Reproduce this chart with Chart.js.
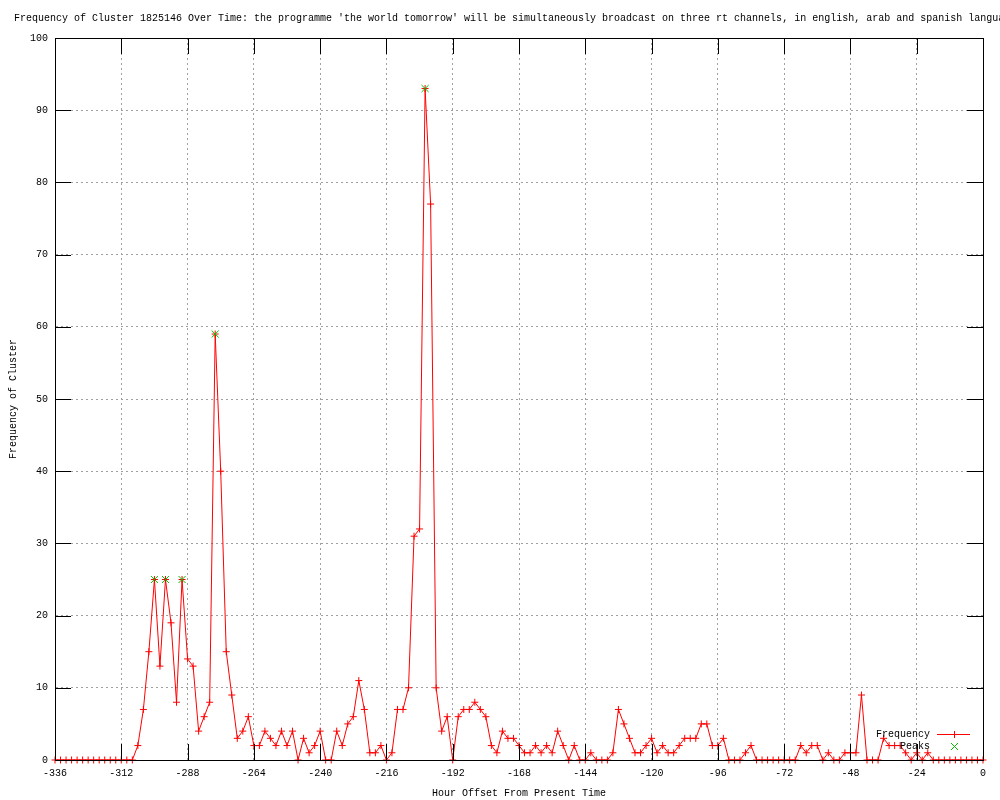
<!DOCTYPE html>
<html>
<head>
<meta charset="utf-8">
<script src="https://cdn.jsdelivr.net/npm/chart.js"></script>
<style>
  html, body { margin: 0; padding: 0; background: #fff; }
  #wrap { width: 1000px; height: 800px; }
</style>
</head>
<body>
<div id="wrap"><canvas id="chart" width="1000" height="800"></canvas></div>
<script>
const titleText = "Frequency of Cluster 1825146 Over Time: the programme 'the world tomorrow' will be simultaneously broadcast on three rt channels, in english, arab and spanish languages"

// hour offsets, one sample every 2 hours
const hours = [
  -336, -334, -332, -330, -328, -326, -324, -322, -320, -318, -316, -314, -312, -310, -308,
  -306, -304, -302, -300, -298, -296, -294, -292, -290, -288, -286, -284, -282, -280, -278,
  -276, -274, -272, -270, -268, -266, -264, -262, -260, -258, -256, -254, -252, -250, -248,
  -246, -244, -242, -240, -238, -236, -234, -232, -230, -228, -226, -224, -222, -220, -218,
  -216, -214, -212, -210, -208, -206, -204, -202, -200, -198, -196, -194, -192, -190, -188,
  -186, -184, -182, -180, -178, -176, -174, -172, -170, -168, -166, -164, -162, -160, -158,
  -156, -154, -152, -150, -148, -146, -144, -142, -140, -138, -136, -134, -132, -130, -128,
  -126, -124, -122, -120, -118, -116, -114, -112, -110, -108, -106, -104, -102, -100, -98,
  -96, -94, -92, -90, -88, -86, -84, -82, -80, -78, -76, -74, -72, -70, -68,
  -66, -64, -62, -60, -58, -56, -54, -52, -50, -48, -46, -44, -42, -40, -38,
  -36, -34, -32, -30, -28, -26, -24, -22, -20, -18, -16, -14, -12, -10, -8,
  -6, -4, -2, 0
]

const frequency = [
  0, 0, 0, 0, 0, 0, 0, 0, 0, 0, 0, 0, 0, 0, 0,
  2, 7, 15, 25, 13, 25, 19, 8, 25, 14, 13, 4, 6, 8, 59,
  40, 15, 9, 3, 4, 6, 2, 2, 4, 3, 2, 4, 2, 4, 0,
  3, 1, 2, 4, 0, 0, 4, 2, 5, 6, 11, 7, 1, 1, 2,
  0, 1, 7, 7, 10, 31, 32, 93, 77, 10, 4, 6, 0, 6, 7,
  7, 8, 7, 6, 2, 1, 4, 3, 3, 2, 1, 1, 2, 1, 2,
  1, 4, 2, 0, 2, 0, 0, 1, 0, 0, 0, 1, 7, 5, 3,
  1, 1, 2, 3, 1, 2, 1, 1, 2, 3, 3, 3, 5, 5, 2,
  2, 3, 0, 0, 0, 1, 2, 0, 0, 0, 0, 0, 0, 0, 0,
  2, 1, 2, 2, 0, 1, 0, 0, 1, 1, 1, 9, 0, 0, 0,
  3, 2, 2, 2, 1, 0, 1, 0, 1, 0, 0, 0, 0, 0, 0,
  0, 0, 0, 0
]

const peakHours = [-300, -296, -290, -278, -202]
const peakValues = [25, 25, 25, 59, 93]

const xTicks = { min: -336, max: 0, step: 24 }
const yTicks = { min: 0, max: 100, step: 10 }

const monoFont = { family: '"Liberation Mono", "DejaVu Sans Mono", monospace', size: 10 }
const fontStr = '10px "Liberation Mono", "DejaVu Sans Mono", monospace'

// gnuplot style frame: top/right border plus inward tics on all four sides
const framePlugin = {
  id: 'frame',
  afterDatasetsDraw(chart) {
    const { ctx, chartArea: a, scales } = chart
    const len = 16
    ctx.save()
    ctx.strokeStyle = '#000'
    ctx.lineWidth = 1
    ctx.setLineDash([])
    ctx.beginPath()
    scales.x.ticks.forEach(t => {
      const x = Math.round(scales.x.getPixelForValue(t.value)) + 0.5
      ctx.moveTo(x, a.bottom); ctx.lineTo(x, a.bottom - len)
      ctx.moveTo(x, a.top); ctx.lineTo(x, a.top + len)
    })
    scales.y.ticks.forEach(t => {
      const y = Math.round(scales.y.getPixelForValue(t.value)) + 0.5
      ctx.moveTo(a.left, y); ctx.lineTo(a.left + len, y)
      ctx.moveTo(a.right, y); ctx.lineTo(a.right - len, y)
    })
    ctx.stroke()
    ctx.strokeRect(Math.round(a.left) + 0.5, Math.round(a.top) + 0.5,
                   Math.round(a.right - a.left), Math.round(a.bottom - a.top))
    ctx.restore()
  }
}

const titlePlugin = {
  id: 'gnuTitle',
  afterDraw(chart) {
    const ctx = chart.ctx
    ctx.save()
    ctx.font = fontStr
    ctx.fillStyle = '#000'
    ctx.textAlign = 'left'
    ctx.textBaseline = 'middle'
    ctx.fillText(titleText, 14, 18)
    ctx.restore()
  }
}

function drawMarker(ctx, style, x, y, r) {
  ctx.beginPath()
  if (style === 'crossRot') {
    const d = r * Math.SQRT1_2
    ctx.moveTo(x - d, y - d); ctx.lineTo(x + d, y + d)
    ctx.moveTo(x - d, y + d); ctx.lineTo(x + d, y - d)
  } else {
    ctx.moveTo(x - r, y); ctx.lineTo(x + r, y)
    ctx.moveTo(x, y - r); ctx.lineTo(x, y + r)
  }
  ctx.stroke()
}

// key in the lower right corner, text right-justified with the sample after it
const keyPlugin = {
  id: 'gnuKey',
  afterDraw(chart) {
    const { ctx, chartArea: a } = chart
    const textRight = a.right - 53
    const sampleL = a.right - 46
    const sampleR = a.right - 13
    const mid = (sampleL + sampleR) / 2
    ctx.save()
    ctx.font = fontStr
    ctx.textAlign = 'right'
    ctx.textBaseline = 'middle'
    ctx.setLineDash([])
    chart.data.datasets.forEach((ds, i) => {
      const y = a.bottom - 26 + i * 12
      ctx.fillStyle = '#000'
      ctx.fillText(ds.label, textRight, y)
      ctx.strokeStyle = ds.borderColor
      ctx.lineWidth = 1
      if (ds.showLine !== false) {
        ctx.beginPath()
        ctx.moveTo(sampleL, y + 0.5); ctx.lineTo(sampleR, y + 0.5)
        ctx.stroke()
      }
      drawMarker(ctx, ds.pointStyle, Math.round(mid) + 0.5, y + 0.5, ds.pointRadius)
    })
    ctx.restore()
  }
}

new Chart(document.getElementById('chart'), {
  type: 'line',
  data: {
    datasets: [
      {
        label: 'Frequency',
        data: hours.map((h, i) => ({ x: h, y: frequency[i] })),
        borderColor: '#ff0000',
        backgroundColor: '#ff0000',
        borderWidth: 1,
        pointStyle: 'cross',
        pointRadius: 3.5,
        pointBorderWidth: 1,
        tension: 0,
        fill: false,
        clip: false,
        order: 1
      },
      {
        label: 'Peaks',
        data: peakHours.map((h, i) => ({ x: h, y: peakValues[i] })),
        borderColor: '#00c000',
        backgroundColor: '#00c000',
        showLine: false,
        pointStyle: 'crossRot',
        pointRadius: 5,
        pointBorderWidth: 1,
        clip: false,
        order: 0
      }
    ]
  },
  options: {
    responsive: false,
    animation: false,
    events: [],
    layout: { padding: { top: 38, right: 17, left: 0, bottom: 0 } },
    plugins: {
      legend: { display: false },
      title: { display: false },
      tooltip: { enabled: false }
    },
    scales: {
      x: {
        type: 'linear',
        min: xTicks.min,
        max: xTicks.max,
        afterFit: s => { s.height = 40 },
        ticks: {
          stepSize: xTicks.step,
          color: '#000',
          font: monoFont,
          padding: 7,
          maxRotation: 0
        },
        grid: { color: '#a0a0a0', drawTicks: false, lineWidth: 1 },
        border: { display: true, color: '#000', width: 1, dash: [2, 3] },
        title: {
          display: true,
          text: 'Hour Offset From Present Time',
          color: '#000',
          font: monoFont,
          padding: { top: 0, bottom: 1 }
        }
      },
      y: {
        min: yTicks.min,
        max: yTicks.max,
        afterFit: s => { s.width = 55 },
        ticks: {
          stepSize: yTicks.step,
          color: '#000',
          font: monoFont,
          padding: 7
        },
        grid: { color: '#a0a0a0', drawTicks: false, lineWidth: 1 },
        border: { display: true, color: '#000', width: 1, dash: [2, 3] },
        title: {
          display: true,
          text: 'Frequency of Cluster',
          color: '#000',
          font: monoFont,
          padding: { top: 7, bottom: 0 }
        }
      }
    }
  },
  plugins: [framePlugin, titlePlugin, keyPlugin]
})
</script>
</body>
</html>
